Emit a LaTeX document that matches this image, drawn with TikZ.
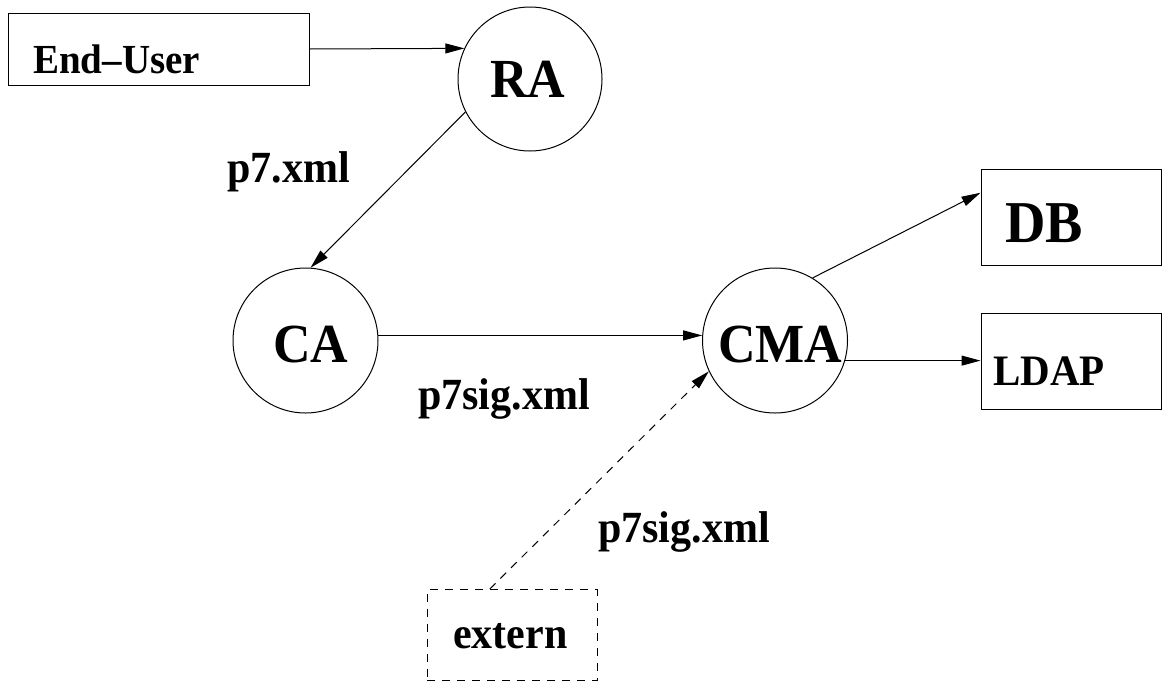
\documentclass[tikz,border=0pt]{standalone}
\usepackage{fontspec}
\setmainfont{Liberation Serif}
\usetikzlibrary{arrows.meta,calc}

% bold text, slightly stretched upright
\newcommand{\tallbf}[2]{{\bfseries\fontsize{#1}{#1}\selectfont\scalebox{1}[1.06]{#2}}}

\begin{document}
\begin{tikzpicture}[x=1pt,y=-1pt,
  flow/.style={line width=1pt,-{Triangle[length=19pt,width=10pt]}},
  boxnode/.style={draw,line width=1pt,rectangle,inner sep=0pt},
  ringnode/.style={draw,line width=1pt,circle,inner sep=0pt,minimum size=145pt},
  lbl/.style={anchor=base west,inner sep=0pt},
  dashline/.style={dash pattern=on 8pt off 7pt}]
  \useasboundingbox (0,0) rectangle (1162,686);

  % boxes
  \node[boxnode,minimum width=301pt,minimum height=72pt] (eu) at (158.5,49) {};
  \node[boxnode,minimum width=180pt,minimum height=96pt] (db) at (1071,217) {};
  \node[boxnode,minimum width=180pt,minimum height=96pt] (ldap) at (1071,361) {};
  \node[boxnode,dashline,minimum width=170pt,minimum height=91pt] (ext) at (512,635) {};

  % box texts
  \node[lbl] (eut) at (33,73) {\tallbf{39}{End--User}};
  \node[lbl] (dbt) at (1005,242) {\tallbf{56}{DB}};
  \node[lbl] (ldapt) at (993,385) {\tallbf{41}{LDAP}};
  \node[lbl] (extt) at (453,648) {\tallbf{42}{extern}};

  % agents
  \node[ringnode,minimum size=144pt] (ra) at (530,79) {};
  \node[ringnode] (ca) at (305.5,340.5) {};
  \node[ringnode] (cma) at (775,340.5) {};
  \node[lbl] (rat) at (490,97) {\tallbf{52}{RA}};
  \node[lbl] (cat) at (273,362) {\tallbf{52}{CA}};
  \node[lbl] (cmat) at (718,362) {\tallbf{52}{CMA}};

  % message labels
  \node[lbl] (m1) at (227,182) {\tallbf{42}{p7.xml}};
  \node[lbl] (m2) at (418,409) {\tallbf{42}{p7sig.xml}};
  \node[lbl] (m3) at (598,542) {\tallbf{42}{p7sig.xml}};

  % connectors
  \draw[flow] (eu.east) -- (ra.155);
  \draw[flow] (ra.207) -- (ca.86);
  \draw[flow] (ca.4) -- (cma.176);
  \draw[flow] (cma.59) -- ($(db.north west)!0.25!(db.south west)$);
  \draw[flow] (cma.-16) -- (cma.-16 -| ldap.west);
  \draw[flow,dashline] ($(ext.north west)!0.37!(ext.north east)$) -- (cma.205);
\end{tikzpicture}
\end{document}
